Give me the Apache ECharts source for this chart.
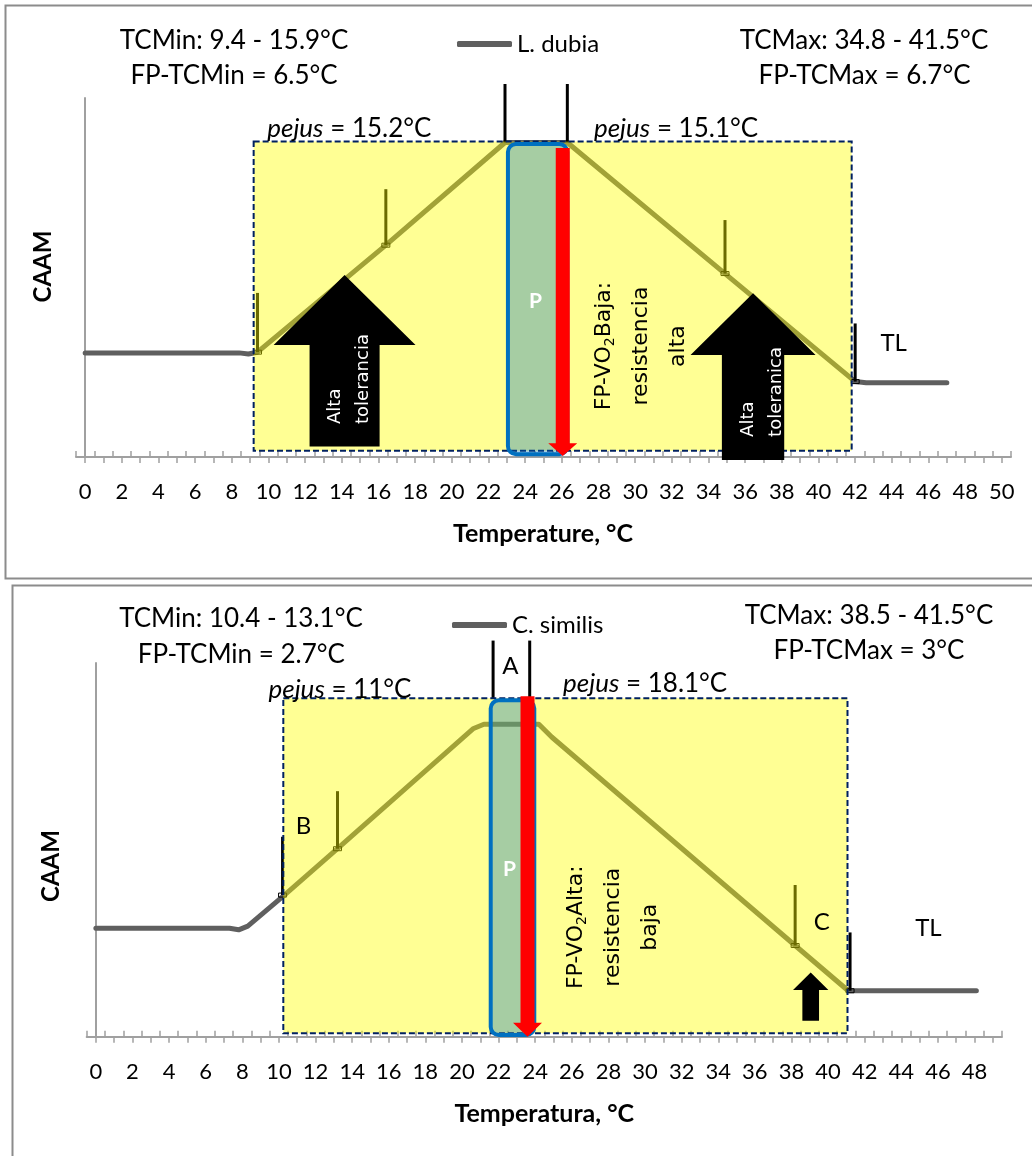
<!DOCTYPE html>
<html>
<head>
<meta charset="utf-8">
<title>CAAM vs temperatura</title>
<script src="https://cdn.jsdelivr.net/npm/echarts@6/dist/echarts.min.js"></script>
<style>
  html, body { margin: 0; padding: 0; background: #fff; }
  #chart { width: 1032px; height: 1156px; }
</style>
</head>
<body>
<div id="chart"></div>
<script>
// x tick labels (category axes)
const tempLabels1 = ['0','1','2','3','4','5','6','7','8','9','10','11','12','13','14','15','16','17','18','19','20',
  '21','22','23','24','25','26','27','28','29','30','31','32','33','34','35','36','37','38','39','40',
  '41','42','43','44','45','46','47','48','49','50'];
const tempLabels2 = ['0','1','2','3','4','5','6','7','8','9','10','11','12','13','14','15','16','17','18','19','20',
  '21','22','23','24','25','26','27','28','29','30','31','32','33','34','35','36','37','38','39','40',
  '41','42','43','44','45','46','47','48','49'];

// L. dubia: [temperature, CAAM]
const dubiaCurve = [[0, 29], [8.4, 29], [8.9, 28.7], [9.4, 29.2], [16.4, 59], [22.9, 87.6], [26.3, 87.6], [34.9, 51.1], [42.0, 21], [42.6, 20.7], [47, 20.7]];
// error bars: [temperature, base, top]
const dubiaErr = [[9.4, 29.2, 45.7], [16.4, 59, 74.6], [34.9, 51.1, 66], [42.0, 21, 37.2]];
const dubiaPeakBars = [[22.9, 87.6, 103.9], [26.3, 87.6, 103.9]];

// C. similis
const similisCurve = [[0, 29], [7.3, 29], [7.8, 28.6], [8.3, 29.6], [10.3, 37.9], [13.2, 50.3], [20.6, 82.4], [21.2, 83.6], [24.2, 83.6], [24.9, 80.2], [38.2, 24.4], [41.1, 12.3], [41.6, 12.3], [48.1, 12.3]];
const similisErr = [[10.2, 37.9, 53.5], [13.2, 50.3, 65.7], [38.2, 24.4, 40.6], [41.2, 12.3, 27.9]];
const similisPeakBars = [[21.7, 90.6, 106], [23.7, 90.6, 106]];

// colours / fonts
const LINE_GRAY = '#5f5f5f';
const AXIS_GRAY = '#a0a0a0';
const YELLOW = 'rgba(255,255,0,0.42)';
const NAVY = '#002060';
const BLUE = '#0070C0';
const BLUE_FILL = 'rgba(0,112,192,0.35)';
const RED = '#ff0000';
const FONT = 'Lato, "Open Sans", sans-serif';
const VERD = '"DejaVu Sans", Verdana, sans-serif';

// annotation shapes (data coordinates)
const panel1 = {
  zone: [9.19, 1.75, 41.81, 87.9],
  optimum: [23.06, 0.8, 26.3, 87.2],
  fall: [26.05, 86.1, 3.8, 0.3],
  arrows: [[14.15, 50.7, 31.2, 2.9, 3.87, 1.91], [36.43, 45.6, 28.4, -0.84, 3.41, 1.7]]
};
const panel2 = {
  zone: [10.24, 0.9, 41.06, 90.6],
  optimum: [21.57, 0.45, 23.95, 90.0],
  fall: [23.58, 91.1, 3.75, 0],
  arrows: [[39.05, 17.2, 12.5, 4.3, 0.965, 0.455]]
};

const noteStyles = {
  p: { fill: '#fff', fontFamily: FONT, fontWeight: 'bold', fontSize: 21, align: 'center', verticalAlign: 'middle' },
  label: { fill: '#000', fontFamily: FONT, fontSize: 24, align: 'center', verticalAlign: 'middle' },
  pejus: { fill: '#000', fontFamily: FONT, fontSize: 26, align: 'left', verticalAlign: 'middle',
    rich: { i: { fontFamily: FONT, fontSize: 26, fontStyle: 'italic', fill: '#000' } } },
  fp: { fill: '#000', fontFamily: VERD, fontSize: 22, align: 'center', verticalAlign: 'middle', lineHeight: 37,
    rich: { s: { fontFamily: VERD, fontSize: 14, fill: '#000', padding: [12, 0, 0, 0] } } },
  tol: { fill: '#fff', fontFamily: VERD, fontSize: 18, align: 'left', verticalAlign: 'middle', lineHeight: 27.7 }
};

const notes1 = [
  { at: [24.56, 43.7], text: 'P', kind: 'p' },
  { at: [30.3, 30.9], text: 'FP-VO{s|2}Baja:\nresistencia\nalta', kind: 'fp', rot: true },
  { at: [14.35, 9.2], text: 'Alta\ntolerancia', kind: 'tol', rot: true },
  { at: [36.88, 5.6], text: 'Alta\ntoleranica', kind: 'tol', rot: true },
  { at: [44.1, 32.1], text: 'TL', kind: 'label' },
  { at: [9.93, 91.8], text: '{i|pejus} = 15.2°C', kind: 'pejus' },
  { at: [27.75, 91.8], text: '{i|pejus} = 15.1°C', kind: 'pejus' }
];
const notes2 = [
  { at: [22.6, 45.1], text: 'P', kind: 'p' },
  { at: [28.21, 29.3], text: 'FP-VO{s|2}Alta:\nresistencia\nbaja', kind: 'fp', rot: true },
  { at: [22.64, 99.5], text: 'A', kind: 'label' },
  { at: [11.34, 56.6], text: 'B', kind: 'label' },
  { at: [39.65, 31.0], text: 'C', kind: 'label' },
  { at: [45.48, 29.4], text: 'TL', kind: 'label' },
  { at: [9.43, 93.3], text: '{i|pejus} = 11°C', kind: 'pejus' },
  { at: [25.52, 94.9], text: '{i|pejus} = 18.1°C', kind: 'pejus' }
];

function renderBars(withMarker) {
  return function (params, api) {
    const x = api.value(0);
    const p0 = api.coord([x, api.value(1)]);
    const p1 = api.coord([x, api.value(2)]);
    const kids = [{
      type: 'line',
      shape: { x1: p0[0], y1: p0[1], x2: p1[0], y2: p1[1] },
      style: { stroke: '#000', lineWidth: 3 }
    }];
    if (withMarker) {
      kids.push({ type: 'rect', shape: { x: p0[0] - 4, y: p0[1] - 2, width: 8, height: 4 },
        style: { fill: 'none', stroke: '#000', lineWidth: 1 } });
    }
    return { type: 'group', children: kids };
  };
}

function renderZone(panel) {
  return function (params, api) {
    const kids = [];
    const z = panel.zone;
    const a = api.coord([z[0], z[3]]), b = api.coord([z[2], z[1]]);
    kids.push({ type: 'rect', shape: { x: a[0], y: a[1], width: b[0] - a[0], height: b[1] - a[1] },
      style: { fill: YELLOW, stroke: NAVY, lineWidth: 2, lineDash: [6, 3] } });

    const o = panel.optimum;
    const c = api.coord([o[0], o[3]]), d = api.coord([o[2], o[1]]);
    kids.push({ type: 'rect', shape: { x: c[0], y: c[1], width: d[0] - c[0], height: d[1] - c[1], r: 8 },
      style: { fill: BLUE_FILL, stroke: BLUE, lineWidth: 4 } });

    // red arrow pointing down
    const f = panel.fall;
    const top = api.coord([f[0], f[1]]), base = api.coord([f[0], f[2]]), tip = api.coord([f[0], f[3]]);
    const x = top[0], sw = 7, hw = 14.5;
    kids.push({ type: 'polygon', shape: { points: [
      [x - sw, top[1]], [x + sw, top[1]], [x + sw, base[1]], [x + hw, base[1]],
      [x, tip[1]], [x - hw, base[1]], [x - sw, base[1]] ] }, style: { fill: RED } });

    // black block arrows pointing up
    panel.arrows.forEach(function (ar) {
      const apex = api.coord([ar[0], ar[1]]);
      const hl = api.coord([ar[0] - ar[4], ar[2]]), hr = api.coord([ar[0] + ar[4], ar[2]]);
      const sl = api.coord([ar[0] - ar[5], ar[3]]), sr = api.coord([ar[0] + ar[5], ar[3]]);
      kids.push({ type: 'polygon', shape: { points: [
        apex, [hr[0], hr[1]], [sr[0], hr[1]], [sr[0], sr[1]], [sl[0], sl[1]], [sl[0], hl[1]], [hl[0], hl[1]] ] },
        style: { fill: '#000' } });
    });
    return { type: 'group', children: kids };
  };
}

function renderNotes(notes) {
  return function (params, api) {
    const n = notes[params.dataIndex];
    const p = api.coord(n.at);
    return {
      type: 'text',
      x: p[0] + (n.rot ? 1 : 0),
      y: p[1] + (n.rot ? 0 : 1.5),
      rotation: n.rot ? Math.PI / 2 : 0,
      style: Object.assign({ text: n.text }, noteStyles[n.kind])
    };
  };
}

function catAxes(grid, labels) {
  return [
    {
      gridIndex: grid, type: 'category', data: labels, position: 'bottom', boundaryGap: true,
      axisLine: { show: true, onZero: false, lineStyle: { color: AXIS_GRAY, width: 2 } },
      axisTick: { show: true, alignWithLabel: true, interval: 0, length: 6, lineStyle: { color: AXIS_GRAY, width: 1.5 } },
      axisLabel: { show: true, interval: 1, margin: 24, color: '#000', fontSize: 22, fontFamily: FONT },
      splitLine: { show: false }
    },
    {
      gridIndex: grid, type: 'category', data: labels, position: 'bottom', boundaryGap: true,
      axisLine: { show: false, onZero: false },
      axisTick: { show: true, inside: true, interval: 0, length: 6, lineStyle: { color: AXIS_GRAY, width: 1.5 } },
      axisLabel: { show: false },
      splitLine: { show: false }
    }
  ];
}

function yAxisFor(grid) {
  return {
    gridIndex: grid, type: 'value', min: 0, max: 100,
    axisLine: { show: true, lineStyle: { color: AXIS_GRAY, width: 2 } },
    axisTick: { show: false }, axisLabel: { show: false }, splitLine: { show: false }
  };
}

function titleText(x, y, text, extra) {
  return {
    type: 'text', x: x, y: y, z: 10,
    style: Object.assign({ text: text, fill: '#000', fontFamily: FONT, fontSize: 26, align: 'center', verticalAlign: 'middle' }, extra || {})
  };
}

const chart = echarts.init(document.getElementById('chart'));

chart.setOption({
  animation: false,
  backgroundColor: '#fff',
  grid: [
    { left: 76, top: 98, width: 935, height: 359, containLabel: false, outerBoundsMode: 'none' },
    { left: 86.7, top: 663, width: 915.3, height: 373.7, containLabel: false, outerBoundsMode: 'none' }
  ],
  xAxis: [
    { gridIndex: 0, type: 'value', min: -0.5, max: 50.5, show: false },
    ...catAxes(0, tempLabels1),
    { gridIndex: 1, type: 'value', min: -0.5, max: 49.5, show: false },
    ...catAxes(1, tempLabels2)
  ],
  yAxis: [yAxisFor(0), yAxisFor(1)],
  legend: [
    { data: ['L. dubia'], left: 457, top: 32, padding: 0, itemWidth: 55, itemHeight: 6, icon: 'roundRect',
      textStyle: { fontFamily: FONT, fontSize: 24, color: '#000' } },
    { data: ['C. similis'], left: 452, top: 613, padding: 0, itemWidth: 55, itemHeight: 6, icon: 'roundRect',
      textStyle: { fontFamily: FONT, fontSize: 24, color: '#000' } }
  ],
  series: [
    // panel 1
    { name: 'L. dubia', type: 'line', xAxisIndex: 0, yAxisIndex: 0, data: dubiaCurve, smooth: false,
      symbol: 'none', lineStyle: { color: LINE_GRAY, width: 5, cap: 'round', join: 'round' }, itemStyle: { color: LINE_GRAY }, z: 2 },
    { type: 'custom', xAxisIndex: 0, yAxisIndex: 0, data: dubiaErr, renderItem: renderBars(true), clip: false, z: 3 },
    { type: 'custom', xAxisIndex: 0, yAxisIndex: 0, data: dubiaPeakBars, renderItem: renderBars(false), clip: false, z: 3 },
    { type: 'custom', xAxisIndex: 0, yAxisIndex: 0, data: [[0, 0]], renderItem: renderZone(panel1), clip: false, z: 4 },
    { type: 'custom', xAxisIndex: 0, yAxisIndex: 0, data: notes1.map(function (n) { return n.at; }),
      renderItem: renderNotes(notes1), clip: false, z: 5 },
    // panel 2
    { name: 'C. similis', type: 'line', xAxisIndex: 3, yAxisIndex: 1, data: similisCurve, smooth: false,
      symbol: 'none', lineStyle: { color: LINE_GRAY, width: 5, cap: 'round', join: 'round' }, itemStyle: { color: LINE_GRAY }, z: 2 },
    { type: 'custom', xAxisIndex: 3, yAxisIndex: 1, data: similisErr, renderItem: renderBars(true), clip: false, z: 3 },
    { type: 'custom', xAxisIndex: 3, yAxisIndex: 1, data: similisPeakBars, renderItem: renderBars(false), clip: false, z: 3 },
    { type: 'custom', xAxisIndex: 3, yAxisIndex: 1, data: [[0, 0]], renderItem: renderZone(panel2), clip: false, z: 4 },
    { type: 'custom', xAxisIndex: 3, yAxisIndex: 1, data: notes2.map(function (n) { return n.at; }),
      renderItem: renderNotes(notes2), clip: false, z: 5 }
  ],
  graphic: [
    // panel frames
    { type: 'rect', shape: { x: 5.5, y: 5.5, width: 1100, height: 573 }, style: { fill: 'none', stroke: '#8c8c8c', lineWidth: 2 }, z: 0 },
    { type: 'rect', shape: { x: 12.5, y: 585.5, width: 1100, height: 600 }, style: { fill: 'none', stroke: '#8c8c8c', lineWidth: 2 }, z: 0 },
    // panel 1 headers
    titleText(234, 40.5, 'TCMin: 9.4 - 15.9°C'),
    titleText(234, 76, 'FP-TCMin = 6.5°C'),
    titleText(864, 40.5, 'TCMax: 34.8 - 41.5°C'),
    titleText(864.5, 76, 'FP-TCMax = 6.7°C'),
    titleText(543, 533.5, 'Temperature, °C', { fontSize: 25, fontWeight: 'bold' }),
    { type: 'text', x: 43.7, y: 266.5, rotation: Math.PI / 2, z: 10,
      style: { text: 'CAAM', fill: '#000', fontFamily: FONT, fontSize: 24, fontWeight: 'bold', align: 'center', verticalAlign: 'middle' } },
    // panel 2 headers
    titleText(241, 619, 'TCMin: 10.4 - 13.1°C'),
    titleText(241.3, 654.5, 'FP-TCMin = 2.7°C'),
    titleText(869, 615.5, 'TCMax: 38.5 - 41.5°C'),
    titleText(869, 650.5, 'FP-TCMax = 3°C'),
    titleText(544.3, 1114, 'Temperatura, °C', { fontSize: 25, fontWeight: 'bold' }),
    { type: 'text', x: 51.4, y: 866, rotation: Math.PI / 2, z: 10,
      style: { text: 'CAAM', fill: '#000', fontFamily: FONT, fontSize: 24, fontWeight: 'bold', align: 'center', verticalAlign: 'middle' } }
  ]
});
</script>
</body>
</html>
